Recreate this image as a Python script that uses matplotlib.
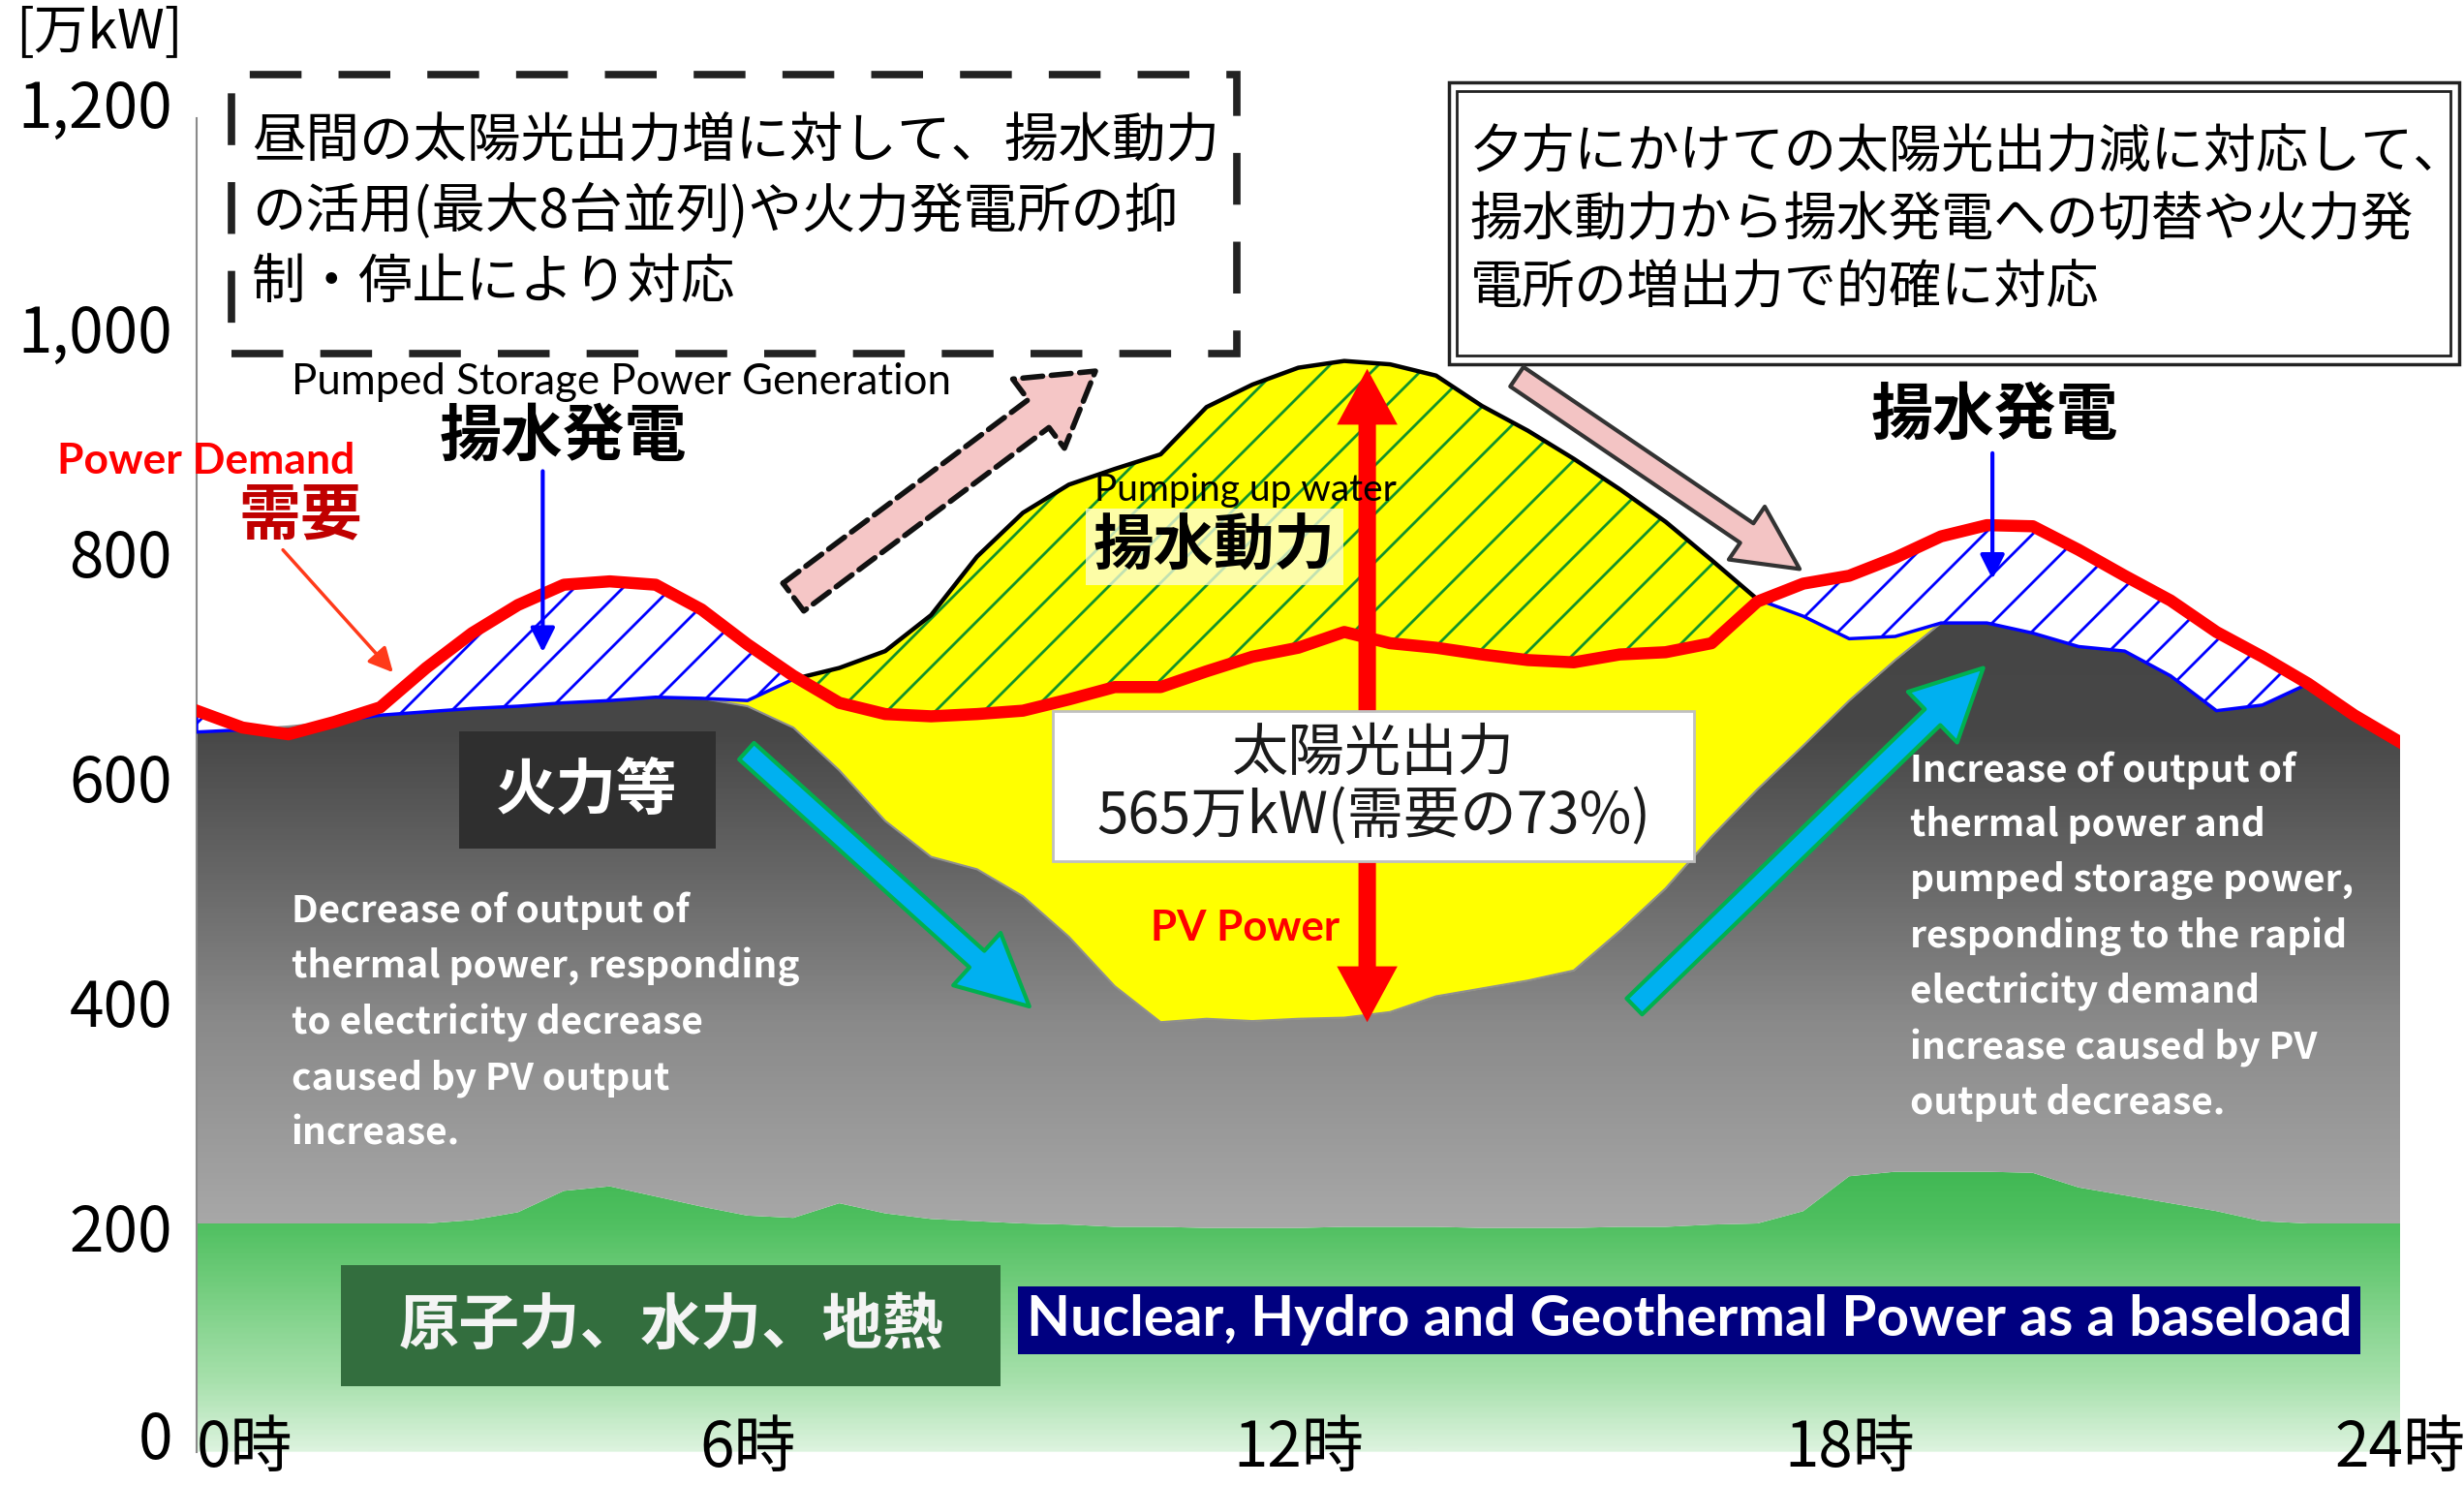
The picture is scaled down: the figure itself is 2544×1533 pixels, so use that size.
import numpy as np
import matplotlib
matplotlib.use('Agg')
from matplotlib import pyplot as plt
from matplotlib.colors import LinearSegmentedColormap
from matplotlib.patches import Rectangle, FancyArrowPatch
from matplotlib.transforms import ScaledTranslation

DPI = 150
k = 100 / DPI  # sizes below were tuned at 100 dpi

plt.rcParams['font.family'] = ['Noto Sans CJK JP', 'DejaVu Sans']
plt.rcParams['hatch.linewidth'] = 2.0 * k

# half-hour grid, values in 万kW
hours = np.arange(0, 24.5, 0.5)
demand = [659, 644, 638, 649, 662, 697, 728, 753, 771, 774, 771, 749, 718, 690, 666, 656,
          654, 656, 659, 669, 680, 680, 694, 707, 715, 729, 719, 715, 709, 704, 702, 709,
          711, 719, 756, 772, 779, 795, 814, 824, 823, 802, 779, 757, 729, 707, 683, 655, 631]
thermal = [640, 642, 645, 649, 655, 658, 661, 663, 666, 668, 671, 670, 663, 644, 606, 561,
           529, 518, 494, 458, 414, 382, 385, 383, 385, 386, 391, 405, 412, 419, 428, 463,
           501, 547, 589, 628, 668, 704, 737, 737, 728, 716, 712, 690, 659, 664, 683, 655, 631]
# top of thermal + PV (+ pumping load at midday)
supply = [640, 642, 645, 649, 655, 658, 661, 663, 666, 668, 671, 670, 668, 687, 697, 712,
          744, 796, 835, 860, 874, 887, 929, 949, 964, 970, 967, 957, 930, 908, 883, 856,
          827, 793, 758, 743, 723, 725, 737, 737, 728, 716, 712, 690, 659, 664, 683, 655, 631]
base = [203, 203, 203, 203, 203, 203, 206, 213, 232, 236, 227, 218, 210, 208, 221, 212,
        207, 205, 203, 202, 200, 200, 199, 199, 199, 200, 200, 200, 199, 199, 199, 200,
        200, 202, 203, 214, 245, 249, 249, 249, 248, 235, 228, 221, 214, 205, 203, 203, 203]

y_ticks = [0, 200, 400, 600, 800, 1000, 1200]
y_labels = ['0', '200', '400', '600', '800', '1,000', '1,200']
x_ticks = [0, 6, 12, 18, 24]
x_labels = ['0時', '6時', '12時', '18時', '24時']

D = np.array(demand, float)
T = np.array(thermal, float)
P = np.array(supply, float)
B = np.array(base, float)
YTOP = 1291

fig = plt.figure(figsize=(2545 / DPI, 1533 / DPI), dpi=DPI)
ax = fig.add_axes([203 / 2545, 0.0224, 2275 / 2545, 0.9776])


def gradient_fill(lower, upper, colors, z):
    poly = ax.fill_between(hours, lower, upper, facecolor='none', edgecolor='none', zorder=z)
    cmap = LinearSegmentedColormap.from_list('grad', colors)
    grad = np.linspace(0, 1, 512).reshape(-1, 1)
    im = ax.imshow(grad, cmap=cmap, extent=[0, 24, 0, YTOP], origin='lower',
                   aspect='auto', zorder=z, interpolation='bilinear')
    im.set_clip_path(poly.get_paths()[0], transform=ax.transData)


gradient_fill(0, B, [(0, '#dcf3de'), (60 / YTOP, '#a8e1ad'), (150 / YTOP, '#70cc7b'),
                     (200 / YTOP, '#50c061'), (260 / YTOP, '#3db650'), (1, '#3db650')], 1)
gradient_fill(B, T, [(0, '#b0b0b0'), (200 / YTOP, '#a8a8a8'), (380 / YTOP, '#8a8a8a'),
                     (500 / YTOP, '#6a6a6a'), (640 / YTOP, '#474747'), (1, '#3a3a3a')], 2)

# PV
ax.fill_between(hours, T, P, where=P > T, interpolate=True, color='#ffff00', lw=0, zorder=3)
ax.plot(hours, T, color='#8f8f8f', lw=1.5 * k, zorder=3.5)

# pumped storage generation (blue hatch)
ax.fill_between(hours, P, D, where=D > P, interpolate=True, facecolor='white',
                edgecolor='#0000ff', hatch='/', lw=2.5 * k, zorder=4)

# pumping load (green hatch)
mask = (P > D) & (hours >= 6) & (hours <= 18)
ax.fill_between(hours, D, P, where=mask, interpolate=True, facecolor='none',
                edgecolor='#12922a', hatch='/', lw=0, zorder=4)
ax.fill_between(hours, D, P, where=mask, interpolate=True, facecolor='none',
                edgecolor='black', lw=3.2 * k, zorder=4.5)

# demand
ax.plot(hours, D, color='#ff0000', lw=9 * k, solid_joinstyle='round', zorder=6)

ax.set_xlim(0, 24)
ax.set_ylim(0, YTOP)
for s in ['top', 'right', 'bottom']:
    ax.spines[s].set_visible(False)
ax.spines['left'].set_color('#8a8a8a')
ax.spines['left'].set_linewidth(1.5 * k)
ax.spines['left'].set_bounds(0, 1186)
ax.set_yticks(y_ticks, y_labels, fontsize=46 * k)
ax.set_xticks(x_ticks, x_labels, fontsize=46 * k)
ax.tick_params(axis='y', length=0, pad=18 * k)
ax.tick_params(axis='x', length=0, pad=-26 * k)
ax.get_xticklabels()[0].set_horizontalalignment('left')
zero_lbl = ax.get_yticklabels()[0]
zero_lbl.set_transform(zero_lbl.get_transform() + ScaledTranslation(0, 12 / 100, fig.dpi_scale_trans))
ax.patch.set_alpha(0)

ax.text(-1.06, 1262, '[万kW]', fontsize=40 * k, ha='center', va='center')

# top-left dashed note
ax.add_patch(Rectangle((0.38, 977), 10.95, 248, fill=False, ec='#222222', lw=5.5 * k,
                       ls=(0, (7, 5)), zorder=8, clip_on=False))
ax.text(0.6, 1102, '昼間の太陽光出力増に対して、揚水動力\nの活用(最大8台並列)や火力発電所の抑\n制・停止により対応',
        fontsize=40 * k, ha='left', va='center', linespacing=1.33, zorder=9)

# top-right double-framed note
ax.add_patch(Rectangle((13.64, 967), 11.0, 251, fc='white', ec='#222222', lw=2.5 * k,
                       zorder=8, clip_on=False))
ax.add_patch(Rectangle((13.73, 975), 10.82, 235, fill=False, ec='#222222', lw=2 * k,
                       zorder=8, clip_on=False))
ax.text(13.87, 1095, '夕方にかけての太陽光出力減に対応して、\n揚水動力から揚水発電への切替や火力発\n電所の増出力で的確に対応',
        fontsize=39 * k, ha='left', va='center', linespacing=1.35, zorder=9)

ax.text(1.03, 951, 'Pumped Storage Power Generation', family='Lato', fontsize=31.5 * k,
        ha='left', va='center', zorder=9)
ax.text(3.99, 902, '揚水発電', fontsize=46 * k, fontweight='bold', ha='center', va='center', zorder=9)
ax.add_patch(FancyArrowPatch((3.77, 872), (3.77, 711), arrowstyle='-|>', mutation_scale=38 * k,
                             color='#0000ff', lw=3 * k, shrinkA=0, shrinkB=0, zorder=9))
ax.text(19.58, 921, '揚水発電', fontsize=46 * k, fontweight='bold', ha='center', va='center', zorder=9)
ax.add_patch(FancyArrowPatch((19.56, 888), (19.56, 776), arrowstyle='-|>', mutation_scale=38 * k,
                             color='#0000ff', lw=3 * k, shrinkA=0, shrinkB=0, zorder=9))

ax.text(0.10, 881, 'Power Demand', family='Lato', fontweight='bold', fontsize=32 * k,
        color='#ff0000', ha='center', va='center', zorder=9)
ax.text(1.13, 832, '需要', fontsize=46 * k, fontweight='bold', color='#c00000',
        ha='center', va='center', zorder=9)
ax.add_patch(FancyArrowPatch((0.94, 802), (2.14, 693), arrowstyle='-|>', mutation_scale=38 * k,
                             color='#ff3a1a', lw=2.5 * k, shrinkA=0, shrinkB=0, zorder=9))

# pink arrows
ax.add_patch(FancyArrowPatch((6.5, 760), (9.79, 961),
                             arrowstyle='simple,head_width=1.07,head_length=0.88,tail_width=0.43',
                             mutation_scale=60 * k, fc='#f5c6c6', ec='#111111', lw=4 * k, ls='--',
                             shrinkA=0, shrinkB=0, zorder=9))
ax.add_patch(FancyArrowPatch((14.38, 956), (17.46, 785),
                             arrowstyle='simple,head_width=0.95,head_length=0.95,tail_width=0.35',
                             mutation_scale=50 * k, fc='#f3c4c4', ec='#333333', lw=3 * k,
                             shrinkA=0, shrinkB=0, zorder=9))

ax.text(11.42, 855, 'Pumping up water', family='Lato', fontsize=28 * k, ha='center', va='center', zorder=9)
ax.text(11.09, 805, '揚水動力', fontsize=45 * k, fontweight='bold', ha='center', va='center', zorder=8,
        bbox=dict(facecolor='#fdfde0', alpha=0.75, edgecolor='none', pad=6 * k))

# red PV double arrow
for end in (963, 382):
    ax.add_patch(FancyArrowPatch((12.75, 592), (12.75, end),
                                 arrowstyle='simple,head_width=0.9,head_length=0.83,tail_width=0.26',
                                 mutation_scale=50 * k, fc='#ff0000', ec='none', lw=0,
                                 shrinkA=0, shrinkB=0, zorder=8))
ax.add_patch(Rectangle((9.33, 525), 6.98, 134, fc='white', ec='#c0c0c0', lw=2 * k, zorder=9))
ax.text(12.82, 592, '太陽光出力\n565万kW(需要の73%)', fontsize=42 * k, color='#1a1a1a',
        ha='center', va='center', linespacing=1.1, zorder=10)
ax.text(11.42, 466, 'PV Power', family='Lato', fontweight='bold', fontsize=31.5 * k,
        color='#ff0000', ha='center', va='center', zorder=9)

# thermal label and notes
ax.add_patch(Rectangle((2.86, 536), 2.79, 105, fc='#2f2f2f', ec='none', zorder=7))
ax.text(4.25, 588, '火力等', fontsize=45 * k, fontweight='bold', color='white',
        ha='center', va='center', zorder=8)
ax.text(1.03, 498, 'Decrease of output of\nthermal power, responding\nto electricity decrease\ncaused by PV output\nincrease.',
        fontsize=28 * k, fontweight='bold', color='white', ha='left', va='top',
        linespacing=1.56, zorder=8)
ax.text(18.66, 623, 'Increase of output of\nthermal power and\npumped storage power,\nresponding to the rapid\nelectricity demand\nincrease caused by PV\noutput decrease.',
        fontsize=28 * k, fontweight='bold', color='white', ha='left', va='top',
        linespacing=1.56, zorder=8)

# blue arrows
ax.add_patch(FancyArrowPatch((5.99, 623), (9.07, 396),
                             arrowstyle='simple,head_width=1.05,head_length=1.05,tail_width=0.33',
                             mutation_scale=50 * k, fc='#00b0f0', ec='#00b050', lw=3 * k,
                             shrinkA=0, shrinkB=0, zorder=8))
ax.add_patch(FancyArrowPatch((15.66, 396), (19.46, 697),
                             arrowstyle='simple,head_width=1.05,head_length=1.05,tail_width=0.33',
                             mutation_scale=50 * k, fc='#00b0f0', ec='#00b050', lw=3 * k,
                             shrinkA=0, shrinkB=0, zorder=8))

# baseload labels
ax.add_patch(Rectangle((1.57, 58), 7.19, 108, fc='#336e3e', ec='none', zorder=7))
ax.text(5.17, 112, '原子力、水力、地熱', fontsize=45 * k, fontweight='bold', color='#f4f4f4',
        ha='center', va='center', zorder=8)
ax.text(16.26, 117, 'Nuclear, Hydro and Geothermal Power as a baseload', family='Lato',
        fontweight='bold', fontsize=42 * k, color='white', ha='center', va='center', zorder=8,
        bbox=dict(facecolor='#000080', edgecolor='none', boxstyle='square,pad=0.15'))

fig.savefig('out.png', dpi=DPI)
